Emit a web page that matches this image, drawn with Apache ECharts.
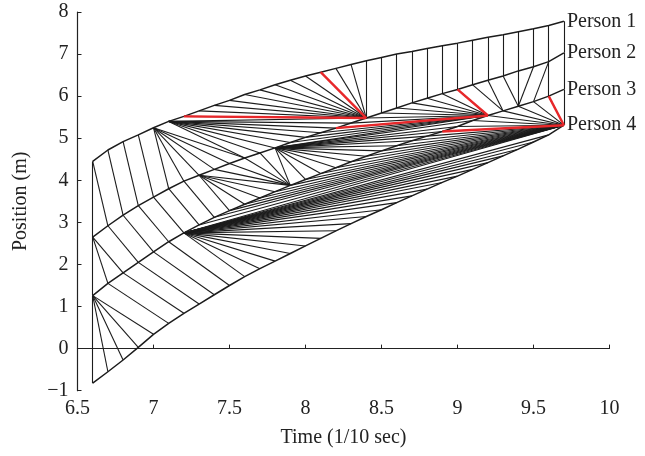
<!DOCTYPE html>
<html><head><meta charset="utf-8">
<script src="https://cdn.jsdelivr.net/npm/echarts@6/dist/echarts.min.js"></script>
<style>html,body{margin:0;padding:0;background:#fff}#c{width:645px;height:456px}</style>
</head><body><div id="c"></div>
<script>
// sample times (1/10 sec)
const times = [6.6,6.7,6.8,6.9,7.0,7.1,7.2,7.3,7.4,7.5,7.6,7.7,7.8,7.9,8.0,8.1,8.2,8.3,8.4,8.5,8.6,8.7,8.8,8.9,9.0,9.1,9.2,9.3,9.4,9.5,9.6,9.7];
// positions (m)
const person1 = [4.45,4.72,4.92,5.08,5.25,5.40,5.52,5.65,5.78,5.90,6.04,6.15,6.27,6.38,6.48,6.57,6.66,6.75,6.84,6.92,7.00,7.06,7.13,7.20,7.26,7.33,7.40,7.46,7.53,7.60,7.68,7.78];
const person2 = [2.65,2.92,3.17,3.40,3.60,3.80,3.98,4.12,4.26,4.40,4.53,4.65,4.77,4.90,5.02,5.13,5.24,5.36,5.48,5.60,5.72,5.84,5.95,6.06,6.16,6.27,6.38,6.48,6.60,6.70,6.82,7.03];
const person3 = [1.26,1.55,1.80,2.05,2.30,2.54,2.75,2.94,3.12,3.28,3.43,3.58,3.73,3.88,4.02,4.16,4.30,4.44,4.57,4.70,4.82,4.94,5.05,5.16,5.28,5.42,5.54,5.65,5.76,5.87,6.00,6.16];
const person4 = [-0.82,-0.55,-0.27,0.03,0.34,0.60,0.84,1.06,1.28,1.50,1.71,1.90,2.08,2.26,2.44,2.62,2.80,2.97,3.14,3.30,3.47,3.63,3.79,3.95,4.10,4.26,4.42,4.58,4.74,4.91,5.08,5.31];
const personNames = ['Person 1','Person 2','Person 3','Person 4'];
// links between neighbouring persons: [index on upper person, index on lower person]
const links12 = [[0,0],[0,1],[1,2],[2,3],[3,4],[4,5],[4,6],[4,7],[4,8],[4,9],[4,10],[5,10],[5,11],[5,12],[5,13],[5,14],[5,15],[5,16],[5,17],[5,18],[6,18],[7,18],[8,18],[9,18],[10,18],[11,18],[12,18],[13,18],[14,18],[15,18],[16,18],[17,18],[18,18],[19,19],[20,20],[21,21],[22,22],[23,23],[24,24],[25,25],[26,26],[27,27],[28,28],[29,29],[30,30],[31,31]];
const links23 = [[0,0],[0,1],[0,2],[1,3],[2,4],[3,5],[4,6],[5,7],[6,8],[7,9],[7,10],[7,11],[7,12],[7,13],[8,13],[9,13],[10,13],[11,13],[12,13],[12,14],[12,15],[12,16],[12,17],[12,18],[12,19],[12,20],[12,21],[12,22],[12,23],[12,24],[12,25],[12,26],[13,26],[14,26],[15,26],[16,26],[17,26],[18,26],[19,26],[20,26],[21,26],[22,26],[23,26],[24,26],[25,27],[26,27],[27,28],[28,28],[29,28],[30,29],[30,30],[31,31]];
const links34 = [[0,0],[0,1],[0,2],[0,3],[0,4],[1,5],[2,6],[3,7],[4,8],[5,9],[6,10],[6,11],[6,12],[6,13],[6,14],[6,15],[6,16],[6,17],[6,18],[6,19],[6,20],[6,21],[6,22],[6,23],[6,24],[6,25],[6,26],[6,27],[6,28],[6,29],[6,30],[6,31],[7,31],[8,31],[9,31],[10,31],[11,31],[12,31],[13,31],[14,31],[15,31],[16,31],[17,31],[18,31],[19,31],[20,31],[21,31],[22,31],[23,31],[24,31],[25,31],[26,31],[27,31],[28,31],[29,31],[30,31],[31,31]];
// highlighted links: [upper person number, upper index, lower index]
const redLinks = [[1,6,18],[1,15,18],[2,16,26],[2,24,26],[3,23,31],[3,30,31]];

const persons = [person1, person2, person3, person4];
const bands = [links12, links23, links34];
const FONT = 'Liberation Serif';
const FS = 20;

function seg(up, a, b) {
  return {coords: [[times[a], persons[up][a]], [times[b], persons[up + 1][b]]]};
}
const blackSegs = [];
bands.forEach((band, k) => band.forEach(p => blackSegs.push(seg(k, p[0], p[1]))));
const redSegs = redLinks.map(r => seg(r[0] - 1, r[1], r[2]));

const chart = echarts.init(document.getElementById('c'), null, {renderer: 'canvas'});
const series = [
  {type: 'lines', coordinateSystem: 'cartesian2d', data: blackSegs, silent: true, z: 2,
   lineStyle: {color: '#1c1c1c', width: 1.1, opacity: 1, curveness: 0}},
  {type: 'lines', coordinateSystem: 'cartesian2d', data: redSegs, silent: true, z: 4,
   lineStyle: {color: '#e8272a', width: 2.4, opacity: 1, curveness: 0}}
];
persons.forEach((p, i) => {
  series.push({type: 'line', name: personNames[i], data: times.map((t, j) => [t, p[j]]),
    showSymbol: false, silent: true, z: 3,
    lineStyle: {color: '#1c1c1c', width: 1.5},
    endLabel: {show: true, formatter: personNames[i], distance: 3, color: '#222',
      fontFamily: FONT, fontSize: FS}});
});
chart.setOption({
  animation: false,
  grid: {left: 77.5, right: 35.5, top: 12, bottom: 65.3, containLabel: false},
  xAxis: {type: 'value', min: 6.5, max: 10, interval: 0.5,
    name: 'Time (1/10 sec)', nameLocation: 'middle', nameGap: 37,
    nameTextStyle: {fontFamily: FONT, fontSize: FS, color: '#222'},
    axisLine: {lineStyle: {color: '#222', width: 1.2}},
    axisTick: {inside: true, length: 4, lineStyle: {color: '#222'}},
    axisLabel: {fontFamily: FONT, fontSize: FS, color: '#222', margin: 8},
    splitLine: {show: false}},
  yAxis: {type: 'value', min: -1, max: 8, interval: 1,
    name: 'Position (m)', nameLocation: 'middle', nameGap: 47,
    nameTextStyle: {fontFamily: FONT, fontSize: FS, color: '#222'},
    axisLine: {show: true, lineStyle: {color: '#222', width: 1.2}},
    axisTick: {show: true, inside: true, length: 4, lineStyle: {color: '#222'}},
    axisLabel: {fontFamily: FONT, fontSize: FS, color: '#222', margin: 9,
      formatter: v => String(v).replace('-', '\u2212')},
    splitLine: {show: false}},
  series: series
});
</script></body></html>
